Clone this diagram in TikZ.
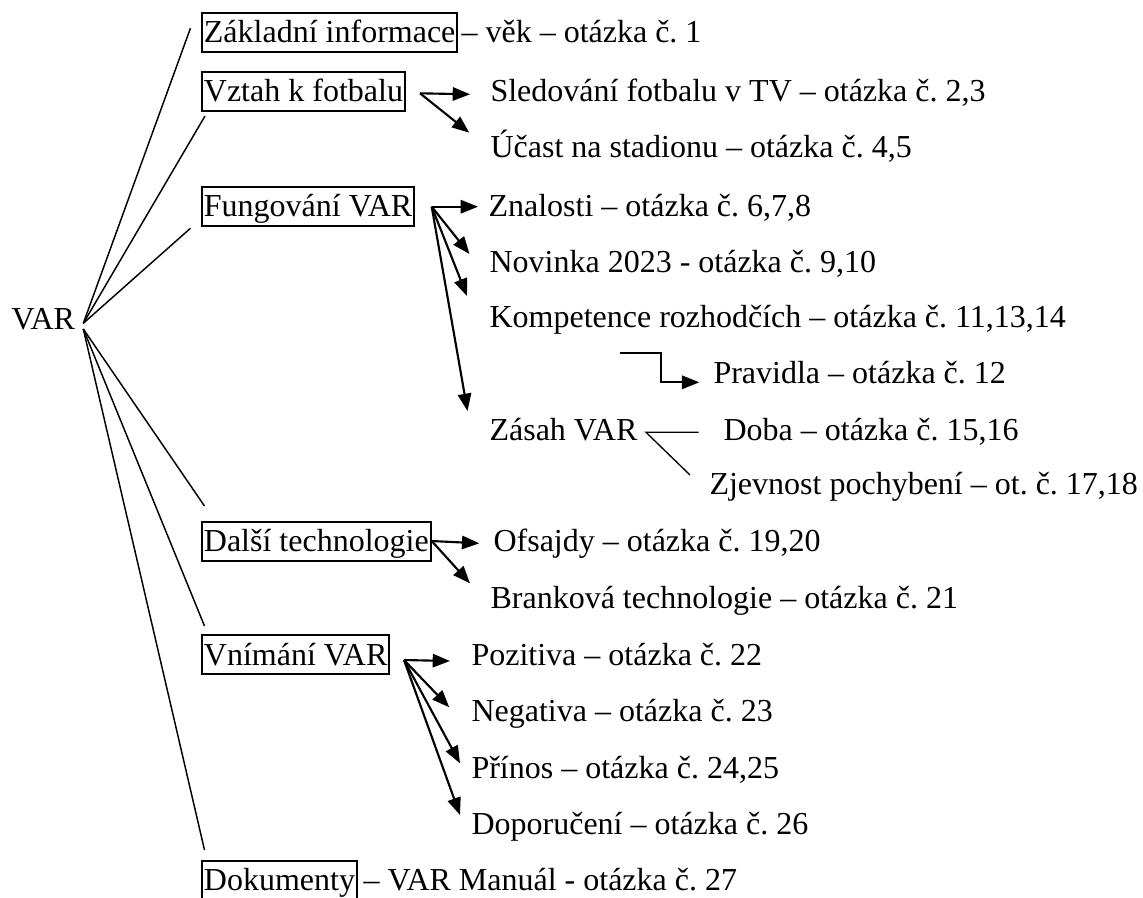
\documentclass[tikz,border=0pt]{standalone}
\usepackage{fontspec}
\setmainfont{Liberation Serif}
\usetikzlibrary{arrows.meta}
\frenchspacing
\begin{document}
\begin{tikzpicture}[x=0.375pt,y=-0.375pt,
  every node/.style={font=\fontsize{12pt}{14pt}\selectfont, inner sep=0pt, anchor=base west},
  boxed/.style={draw, line width=0.7pt, inner xsep=0.75pt, inner ysep=0pt, text height=11.1pt, text depth=3.5pt},
  tree/.style={line width=0.55pt},
  arr/.style={-{Triangle[length=6.5pt,width=5pt]}, line width=0.8pt},
  thin/.style={line width=0.5pt}]
\useasboundingbox (0,0) rectangle (1143,897);
% root
\node (var) at (11,329) {VAR};
\coordinate (hu) at (83.3,323.3);
\coordinate (hl) at (83.3,329);
% category boxes
\node[boxed] (zakl) at (201,42.4) {Základní informace};
\node[boxed] (vztah) at (201,101.7) {Vztah k fotbalu};
\node[boxed] (fung) at (201,216.4) {Fungování VAR};
\node[boxed] (dalsi) at (201,551.5) {Další technologie};
\node[boxed] (vnim) at (201,665) {Vnímání VAR};
\node[boxed] (dok) at (201,890.5) {Dokumenty\hspace{2.2pt}};
% texts
\node (t0) at (461,42.4) {– věk – otázka č. 1};
\node (sled) at (490,101.7) {Sledování fotbalu v TV – otázka č. 2,3};
\node (ucast) at (490,157) {Účast na stadionu – otázka č. 4,5};
\node (znal) at (488,216.4) {Znalosti – otázka č. 6,7,8};
\node (nov) at (489,272) {Novinka 2023 - otázka č. 9,10};
\node (komp) at (489,327) {Kompetence rozhodčích – otázka č. 11,13,14};
\node (prav) at (713,383.5) {Pravidla – otázka č. 12};
\node (zasah) at (489,440.5) {Zásah VAR};
\node (doba) at (723,440.5) {Doba – otázka č. 15,16};
\node (zjev) at (709,494) {Zjevnost pochybení – ot. č. 17,18};
\node (ofs) at (493,551.5) {Ofsajdy – otázka č. 19,20};
\node (brank) at (490,608.5) {Branková technologie – otázka č. 21};
\node (poz) at (471,665) {Pozitiva – otázka č. 22};
\node (neg) at (471,721.5) {Negativa – otázka č. 23};
\node (prin) at (471,778) {Přínos – otázka č. 24,25};
\node (dop) at (471,834) {Doporučení – otázka č. 26};
\node (t15) at (363,890.5) {– VAR Manuál - otázka č. 27};
% tree lines from VAR
\coordinate (e1) at (190.4,28.3);
\coordinate (e2) at (205,116);
\coordinate (e3) at (190.4,228.3);
\coordinate (e4) at (204.5,506);
\coordinate (e5) at (204.5,626);
\coordinate (e6) at (204.5,850);
\draw[tree] (hu) -- (e1);
\draw[tree] (hu) -- (e2);
\draw[tree] (hu) -- (e3);
\draw[tree] (hl) -- (e4);
\draw[tree] (hl) -- (e5);
\draw[tree] (hl) -- (e6);
% Vztah arrows
\coordinate (sv) at (420,93.3);
\coordinate (a1) at (470,94.3);
\coordinate (a2) at (469.3,132.7);
\draw[arr] (sv) -- (a1);
\draw[arr] (sv) -- (a2);
% Fungovani arrows
\coordinate (sf) at (431.7,206.7);
\coordinate (b1) at (478,206.7);
\coordinate (b2) at (469.5,254);
\coordinate (b3) at (467,296);
\coordinate (b4) at (467.5,411);
\draw[arr] (sf) -- (b1);
\draw[arr] (sf) -- (b2);
\draw[arr] (sf) -- (b3);
\draw[arr] (sf) -- (b4);
% Pravidla elbow
\coordinate (p0) at (620,353.3);
\coordinate (p1) at (699.3,382.3);
\draw[arr] (p0) -- (660.7,353.3) |- (p1);
% Zasah lines
\coordinate (z0) at (646,432.3);
\coordinate (z1) at (698.5,432.3);
\coordinate (z2) at (690,475);
\draw[thin] (z1) -- (z0) -- (z2);
% Dalsi arrows
\coordinate (sd) at (431.7,541);
\coordinate (c1) at (479.3,543.3);
\coordinate (c2) at (470,583.3);
\draw[arr] (sd) -- (c1);
\draw[arr] (sd) -- (c2);
% Vnimani arrows
\coordinate (sn) at (404,660);
\coordinate (d1) at (450,661);
\coordinate (d2) at (449.3,707.3);
\coordinate (d3) at (460,763.3);
\coordinate (d4) at (460,815);
\draw[arr] (sn) -- (d1);
\draw[arr] (sn) -- (d2);
\draw[arr] (sn) -- (d3);
\draw[arr] (sn) -- (d4);
\end{tikzpicture}
\end{document}
